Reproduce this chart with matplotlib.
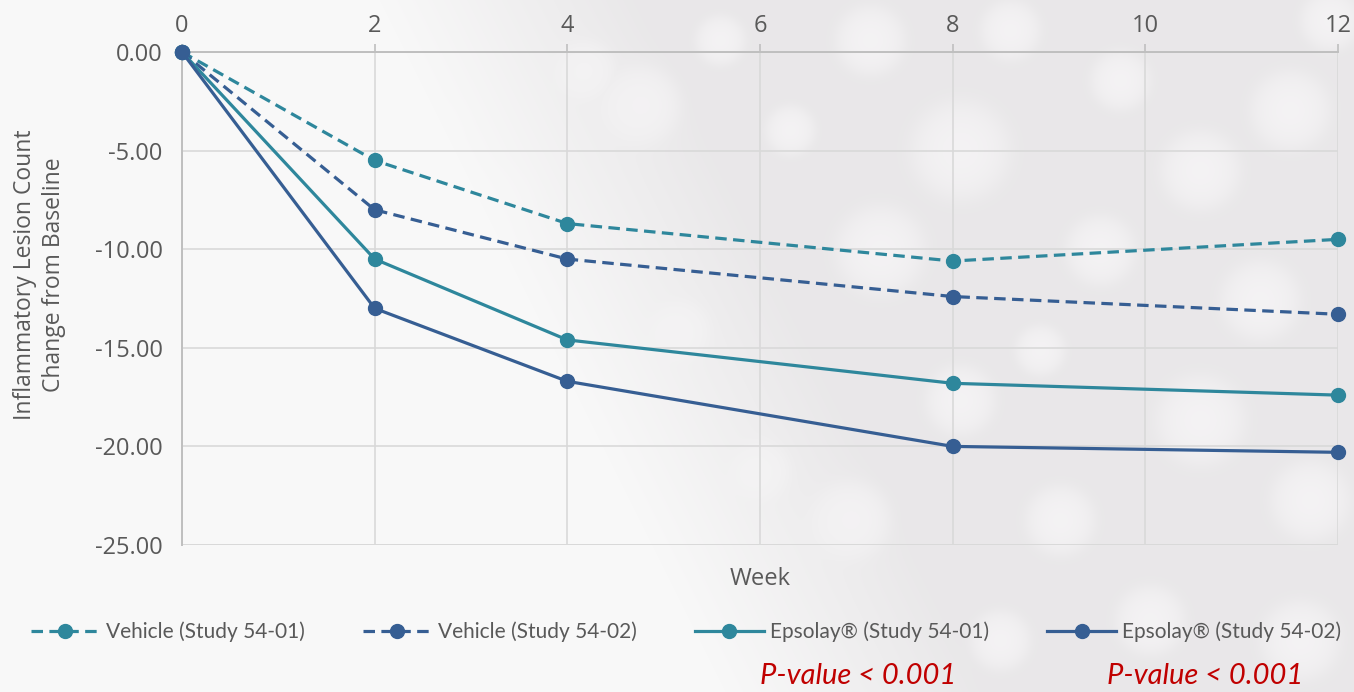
import numpy as np
import matplotlib
matplotlib.use("Agg")
from matplotlib import pyplot as plt
from matplotlib.lines import Line2D

# Mean change in inflammatory lesion count by study week
weeks = [0, 2, 4, 8, 12]
vehicle_01 = [0.0, -5.5, -8.7, -10.6, -9.5]
vehicle_02 = [0.0, -8.0, -10.5, -12.4, -13.3]
epsolay_01 = [0.0, -10.5, -14.6, -16.8, -17.4]
epsolay_02 = [0.0, -13.0, -16.7, -20.0, -20.3]

series_labels = ['Vehicle (Study 54-01)', 'Vehicle (Study 54-02)',
                 'Epsolay® (Study 54-01)', 'Epsolay® (Study 54-02)']
x_ticks = [0, 2, 4, 6, 8, 10, 12]
y_ticks = [0, -5, -10, -15, -20, -25]
p_labels = ['P-value < 0.001', 'P-value < 0.001']

teal = '#2E879C'
navy = '#365E93'
grey_text = '#595959'

W, H = 1354, 692
fig = plt.figure(figsize=(W / 100, H / 100), dpi=100)

# soft grey backdrop with faint bokeh spots on the right side
yy, xx = np.mgrid[0:H, 0:W].astype(float)
edge = 380 + 0.5 * yy
w = np.clip((xx - edge) / 260.0, 0, 1)
shade = 248 - 15 * w
spots = [(640, 105, 40), (585, 70, 30), (720, 40, 25), (870, 40, 35), (960, 150, 50),
         (1010, 30, 30), (1120, 80, 30), (1200, 170, 40), (1290, 110, 40), (880, 250, 45),
         (1100, 250, 35), (1260, 300, 40), (960, 400, 35), (1200, 420, 45), (1310, 500, 40),
         (850, 520, 40), (1060, 520, 35), (760, 470, 30), (680, 330, 30), (500, 200, 35),
         (560, 420, 30), (1150, 620, 35), (1300, 640, 40), (450, 120, 20), (790, 130, 25),
         (1040, 350, 25), (1330, 20, 30), (1000, 640, 30)]
glow = np.zeros_like(xx)
for cx, cy, r in spots:
    d = np.hypot(xx - cx, yy - cy) / r
    ring = np.exp(-d ** 6) * 0.35 + np.exp(-d ** 2 * 1.5) * 0.25
    glow = np.maximum(glow, ring)
shade = shade + (251 - shade) * glow * w
img = np.dstack([shade, shade - 1.5 * w, shade]) / 255.0
bg = fig.add_axes([0, 0, 1, 1], zorder=-10)
bg.imshow(np.clip(img, 0, 1), aspect='auto', interpolation='bilinear')
bg.axis('off')

ax = fig.add_axes([182 / W, 1 - 545 / H, 1156 / W, 493 / H])
ax.set_facecolor('none')

dash = (3.6, 2.0)
style = dict(linewidth=2.3, marker='o', markersize=10)
for ys, col, ls in [(vehicle_01, teal, dash), (vehicle_02, navy, dash),
                    (epsolay_01, teal, None), (epsolay_02, navy, None)]:
    line, = ax.plot(weeks, ys, color=col, clip_on=False, zorder=3, **style)
    if ls:
        line.set_dashes(ls)

ax.set_xlim(0, 12)
ax.set_ylim(-25, 0)
ax.set_xticks(x_ticks)
ax.set_yticks(y_ticks)
ax.set_yticklabels([f'{v:.2f}' for v in y_ticks])
ax.xaxis.tick_top()
ax.tick_params(axis='x', length=6, width=1.2, color='#BFBFBF', pad=4,
               labelsize=17, labelcolor=grey_text)
ax.tick_params(axis='y', length=0, pad=14, labelsize=17, labelcolor=grey_text)
for lbl in ax.get_xticklabels() + ax.get_yticklabels():
    lbl.set_fontfamily('Open Sans')

ax.grid(True, color='#D9D9D9', linewidth=1.2)
ax.set_axisbelow(True)
for side in ['right', 'bottom']:
    ax.spines[side].set_visible(False)
for side in ['top', 'left']:
    ax.spines[side].set_color('#BFBFBF')
    ax.spines[side].set_linewidth(1.4)
ax.axhline(-25, color='#D9D9D9', linewidth=1.2, zorder=0)

ax.set_xlabel('Week', fontsize=17, color=grey_text, family='Open Sans', labelpad=16)
ax.xaxis.set_label_position('bottom')
ax.set_ylabel('Inflammatory Lesion Count\nChange from Baseline', fontsize=16.5,
              color=grey_text, family='Open Sans', linespacing=1.3)
ax.yaxis.set_label_coords(-0.100, 0.548)

handles = []
for col, ls in [(teal, dash), (navy, dash), (teal, None), (navy, None)]:
    h = Line2D([], [], color=col, **style)
    if ls:
        h.set_dashes(ls)
    handles.append(h)
leg = fig.legend(handles, series_labels, loc='center', bbox_to_anchor=(686 / W, 1 - 632 / H),
                 ncol=4, frameon=False, handlelength=3.3, handletextpad=0.3,
                 columnspacing=2.8, prop={'family': 'Lato', 'size': 15})
for t in leg.get_texts():
    t.set_color(grey_text)

for xp, txt in zip([858, 1205], p_labels):
    fig.text(xp / W, 1 - 676 / H, txt, ha='center', va='center', color='#C00000',
             fontsize=21, style='italic', family='Lato')

fig.savefig('out.png', dpi=100)
